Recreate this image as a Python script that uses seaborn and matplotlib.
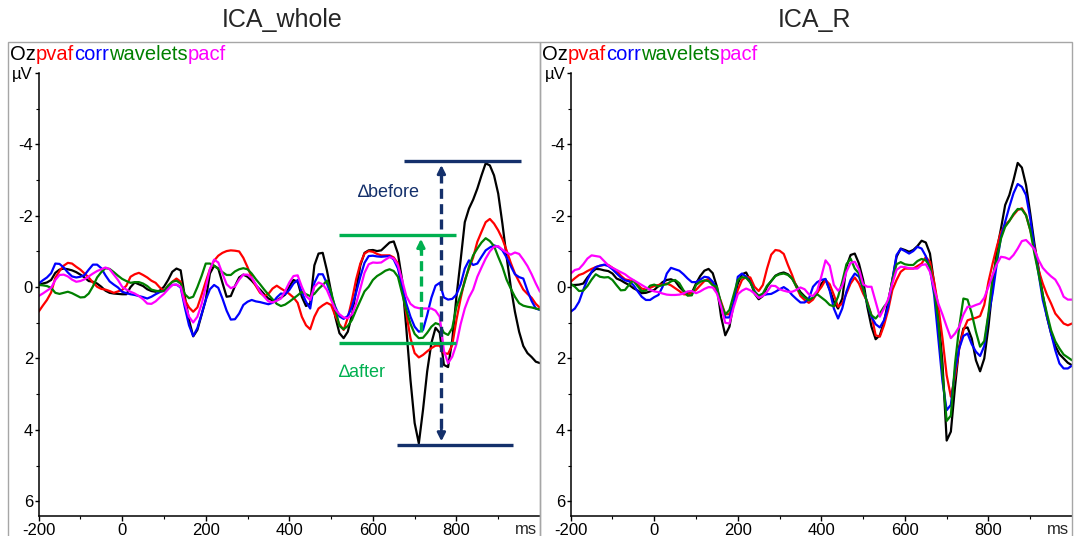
import matplotlib
matplotlib.use("Agg")
import matplotlib.pyplot as plt
import numpy as np
import pandas as pd
import seaborn as sns
from matplotlib.patches import Rectangle

# ---------------- data (µV, 10 ms steps) ----------------
times = list(range(-200, 1001, 10))
methods = ["Oz", "pvaf", "corr", "wavelets", "pacf"]
colors = {"Oz": "#000000", "pvaf": "#ff0000", "corr": "#0000ff",
          "wavelets": "#008000", "pacf": "#ff00ff"}

whole_oz = [-0.06,-0.1,-0.13,-0.2,
    -0.4,-0.49,-0.52,-0.5,-0.47,-0.42,-0.35,-0.27,-0.17,-0.15,-0.1,-0.01,0.1,0.16,0.18,0.19,0.2,0.2,0,-0.13,-0.08,-0.03,0.06,0.11,0.13,0.1,-0.01,-0.2,-0.43,-0.52,-0.47,
    0.27,0.92,1.38,1.2,0.78,0.36,-0.38,-0.6,-0.52,-0.12,0.27,0.25,-0.03,-0.27,-0.35,-0.29,-0.18,-0.05,0.07,0.2,0.32,0.37,0.37,0.3,0.21,-0.01,-0.2,-0.15,0.27,0.53,0.46,
    -0.61,-0.94,-0.96,-0.47,0.13,0.83,1.29,1.43,1.25,0.78,0.08,-0.61,-0.96,-1.03,-1.04,-1.01,-1.03,-1.14,-1.25,-1.28,-0.94,-0.2,1.15,2.6,3.81,4.38,3.44,2.36,1.57,1.14,1.28,
    2.18,2.24,1.48,0.27,-0.75,-1.82,-2.2,-2.45,-2.76,-3.13,-3.47,-3.41,-3.13,-2.62,-1.78,-0.85,-0.01,0.69,1.25,1.65,1.85,1.96,2.09,2.13]
whole_pvaf = [0.69,0.52,0.36,0.15,
    -0.26,-0.45,-0.6,-0.68,-0.66,-0.57,-0.49,-0.38,-0.27,-0.13,-0.01,0.05,0.07,0.11,0.16,0.12,0.08,-0.04,-0.29,-0.36,-0.4,-0.34,-0.27,-0.18,-0.12,0.01,0.11,-0.04,-0.15,-0.24,-0.15,
    0.36,0.57,0.69,0.57,0.22,-0.15,-0.5,-0.74,-0.88,-0.96,-1.01,-1.03,-1.02,-1.0,-0.82,-0.56,-0.27,-0.03,0.16,0.25,0.19,0.04,-0.04,0.04,0.11,0.19,0.29,0.44,0.83,1.07,1.18,
    0.83,0.6,0.51,0.44,0.5,0.8,1.04,1.2,0.86,0.36,-0.22,-0.66,-0.94,-1.01,-0.99,-0.93,-0.89,-0.89,-0.89,-0.83,-0.66,-0.01,0.74,1.43,1.85,1.97,1.9,1.8,1.71,1.64,1.64,
    1.85,1.87,1.62,0.92,0.32,-0.2,-0.52,-0.83,-1.27,-1.55,-1.82,-1.91,-1.78,-1.59,-1.35,-1.03,-0.68,-0.38,-0.15,0.07,0.19,0.3,0.47,0.58]
whole_corr = [-0.1,-0.19,-0.27,-0.39,
    -0.66,-0.65,-0.55,-0.41,-0.3,-0.27,-0.29,-0.34,-0.49,-0.63,-0.63,-0.53,-0.33,-0.16,-0.07,0.01,0.13,0.17,0.2,0.22,0.25,0.28,0.32,0.27,0.2,0.14,0.1,0.03,-0.06,-0.07,0.01,
    0.57,1.07,1.37,1.15,0.76,0.36,0.06,-0.06,0.02,0.32,0.66,0.91,0.9,0.74,0.5,0.41,0.36,0.4,0.42,0.45,0.48,0.44,0.29,0.18,0.2,0.08,-0.1,-0.2,0.15,0.41,0.6,
    -0.12,-0.36,-0.36,-0.1,0.22,0.55,0.82,0.89,0.81,0.55,0.15,-0.29,-0.68,-0.87,-0.88,-0.86,-0.85,-0.86,-0.87,-0.77,-0.52,-0.01,0.46,0.83,1.11,1.25,1.2,0.78,0.3,-0.04,-0.12,
    0.29,0.35,0.33,0.21,-0.08,-0.52,-0.75,-0.62,-0.66,-0.85,-1.03,-1.11,-1.17,-1.13,-1.03,-0.83,-0.59,-0.36,-0.28,-0.24,0.1,0.39,0.6,0.64]
whole_wavelets = [-0.06,-0.05,-0.03,0.02,
    0.16,0.19,0.16,0.13,0.17,0.23,0.29,0.28,0.18,-0.02,-0.27,-0.42,-0.53,-0.51,-0.42,-0.32,-0.23,-0.17,-0.12,-0.14,-0.14,-0.1,-0.03,0.07,0.1,0.12,0.11,-0.04,-0.15,-0.18,-0.1,
    0.2,0.31,0.27,0,-0.31,-0.66,-0.66,-0.6,-0.51,-0.42,-0.34,-0.34,-0.44,-0.5,-0.53,-0.5,-0.38,-0.22,-0.08,0.07,0.21,0.34,0.47,0.53,0.49,0.41,0.32,0.23,0.13,0.2,0.25,
    0.19,0.05,-0.06,-0.18,0.13,0.6,1.09,1.18,1.09,0.92,0.64,0.38,0.12,-0.01,-0.2,-0.31,-0.38,-0.46,-0.5,-0.45,-0.29,0.18,0.64,1.03,1.31,1.43,1.42,1.28,1.11,1.01,1.05,
    1.28,1.34,1.15,0.55,0.22,-0.15,-0.57,-0.89,-1.08,-1.25,-1.37,-1.29,-1.15,-0.85,-0.57,-0.21,0.04,0.27,0.45,0.52,0.55,0.57,0.6,0.63]
whole_pacf = [0.25,0.18,0.1,0.02,
    -0.2,-0.34,-0.35,-0.3,-0.21,-0.15,-0.17,-0.22,-0.3,-0.38,-0.45,-0.5,-0.55,-0.5,-0.35,-0.2,-0.01,0.07,0.13,0.18,0.25,0.34,0.46,0.47,0.4,0.29,0.19,0.06,-0.06,-0.07,-0.01,
    0.46,0.83,0.99,0.83,0.48,0.0,-0.5,-0.77,-0.69,-0.38,-0.08,0.03,-0.02,-0.21,-0.35,-0.35,-0.26,-0.08,0.12,0.27,0.4,0.43,0.38,0.32,0.11,-0.13,-0.31,-0.33,-0.01,0.25,0.36,
    -0.01,-0.13,-0.08,0.08,0.36,0.62,0.76,0.85,0.87,0.76,0.46,0.04,-0.4,-0.64,-0.69,-0.68,-0.69,-0.77,-0.84,-0.8,-0.61,-0.2,0.25,0.47,0.56,0.59,0.6,0.6,0.6,0.66,0.83,
    1.78,2.13,1.95,1.6,1.04,0.6,0.29,0.07,-0.29,-0.55,-0.8,-1.0,-1.13,-1.15,-1.05,-0.97,-0.91,-0.97,-0.93,-0.77,-0.59,-0.36,-0.1,0.13]

r_oz = [-0.06,-0.06,-0.07,-0.1,-0.27,-0.41,-0.51,-0.5,-0.47,-0.45,
    -0.38,-0.24,-0.19,-0.12,-0.06,0.03,0.09,0.17,0.16,0.12,
    0.08,-0.03,-0.14,-0.2,-0.22,-0.17,-0.01,0.11,0.18,0.16,
    -0.1,-0.31,-0.46,-0.51,-0.39,-0.01,0.83,1.35,1.11,0.46,
    -0.1,-0.36,-0.41,-0.18,0.18,0.34,0.25,-0.01,-0.17,-0.32,
    -0.38,-0.41,-0.36,-0.24,-0.05,0.14,0.26,0.36,0.32,0.16,
    -0.1,-0.21,0.07,0.41,0.6,0.32,-0.57,-0.9,-0.94,-0.66,
    -0.2,0.55,1.11,1.46,1.35,0.97,0.41,-0.2,-0.85,-1.08,
    -1.04,-0.99,-1.04,-1.15,-1.3,-1.25,-0.94,-0.1,0.74,2.14,
    4.3,4.05,2.79,1.67,1.16,1.13,1.44,2.05,2.36,2.0,
    1.11,-0.01,-1.04,-1.64,-2.3,-2.58,-3.0,-3.48,-3.35,-2.86,
    -2.07,-1.22,-0.52,0.22,0.83,1.3,1.65,1.88,2.0,2.12,
    2.19]
r_pvaf = [-0.15,-0.25,-0.34,-0.38,-0.45,-0.51,-0.56,-0.6,-0.62,-0.62,
    -0.54,-0.46,-0.32,-0.22,-0.19,-0.17,-0.07,0.04,0.07,0.02,
    -0.03,-0.06,-0.08,-0.1,-0.05,0.03,0.11,0.2,0.21,0.16,
    0.08,-0.05,-0.17,-0.23,-0.1,0.1,0.41,0.76,0.76,0.46,
    0.08,-0.2,-0.29,-0.27,-0.01,0.11,-0.06,-0.52,-0.91,-1.04,
    -1.02,-0.93,-0.62,-0.34,-0.01,0.25,0.36,0.44,0.35,0.15,
    0.0,-0.2,-0.08,0.22,0.55,0.46,0.18,-0.1,-0.27,-0.1,
    0.18,0.41,0.79,1.35,1.39,1.07,0.64,0.08,-0.2,-0.43,
    -0.52,-0.52,-0.52,-0.59,-0.66,-0.84,-0.71,-0.15,0.55,1.44,
    2.47,3.07,2.51,1.72,1.21,0.93,0.89,0.86,0.81,0.5,
    -0.15,-0.66,-1.13,-1.55,-1.74,-1.86,-2.02,-2.16,-2.21,-2.02,
    -1.6,-1.13,-0.48,-0.1,0.21,0.46,0.74,0.88,1.02,1.07,
    1.02]
r_corr = [0.69,0.6,0.41,0.08,-0.21,-0.43,-0.56,-0.6,-0.63,-0.59,
    -0.5,-0.38,-0.27,-0.19,-0.16,-0.06,0.11,0.27,0.36,0.36,
    0.28,0.22,-0.01,-0.38,-0.54,-0.5,-0.46,-0.36,-0.24,-0.14,
    -0.14,-0.21,-0.29,-0.27,-0.15,0.04,0.5,0.85,0.85,0.46,
    -0.29,-0.38,-0.29,-0.13,0.11,0.26,0.23,0.2,0.19,0.13,
    0.06,0,0.08,0.22,0.33,0.43,0.43,0.33,-0.01,-0.14,
    -0.2,-0.23,0.1,0.6,0.88,0.6,0.13,-0.2,-0.38,-0.29,
    0.04,0.46,0.83,1.04,1.13,0.93,0.55,-0.2,-0.9,-1.07,
    -1.01,-0.94,-1.01,-1.13,-1.08,-0.87,-0.52,0.22,1.44,2.65,
    3.45,3.3,2.33,1.72,1.37,1.3,1.6,1.81,1.93,1.65,
    0.79,0.18,-0.66,-1.41,-1.83,-2.25,-2.63,-2.89,-2.81,-2.58,
    -1.93,-1.08,-0.38,0.36,0.83,1.3,1.77,2.14,2.28,2.28,
    2.2]
r_wavelets = [-0.09,-0.01,0.11,0.1,-0.03,-0.21,-0.36,-0.29,-0.27,-0.28,
    -0.2,-0.05,0.09,0.08,-0.07,-0.19,-0.03,0.11,0.1,-0.04,
    -0.07,-0.02,-0.06,-0.08,-0.16,-0.2,-0.11,0.09,0.24,0.23,
    -0.06,-0.15,-0.19,-0.17,-0.05,-0.01,0.46,0.77,0.64,0.22,
    -0.2,-0.28,-0.26,-0.13,0.13,0.24,0.18,-0.04,-0.17,-0.31,
    -0.36,-0.38,-0.34,-0.24,-0.01,0.18,0.29,0.37,0.29,0.2,
    0.29,0.38,0.5,0.54,0.27,-0.15,-0.64,-0.8,-0.52,-0.38,
    0.04,0.46,0.79,0.88,0.74,0.55,0.41,-0.2,-0.64,-0.7,
    -0.64,-0.62,-0.62,-0.73,-0.79,-0.75,-0.57,0.08,0.97,2.42,
    3.75,3.6,2.14,1.11,0.32,0.35,0.74,1.25,1.67,1.51,
    0.74,-0.29,-0.8,-1.36,-1.69,-1.85,-2.05,-2.19,-2.18,-2.01,
    -1.6,-0.94,-0.38,0.22,0.74,1.21,1.52,1.72,1.89,1.97,
    2.05]
r_pacf = [-0.38,-0.48,-0.51,-0.64,-0.8,-0.89,-0.87,-0.85,-0.73,-0.61,
    -0.54,-0.48,-0.42,-0.36,-0.27,-0.2,-0.13,-0.06,0.01,0.08,
    0.12,0.14,0.18,0.21,0.22,0.22,0.21,0.18,0.12,0.11,
    0.17,0.12,0.05,0,0.01,0.18,0.55,1.0,1.02,0.57,
    0.2,0.1,0.04,0.09,0.18,0.3,0.25,0.13,-0.04,-0.03,
    0.06,0.1,0.13,0.13,0.08,0.01,0.06,0.2,0.25,0.1,
    -0.3,-0.75,-0.6,-0.06,0.1,-0.03,-0.43,-0.68,-0.71,-0.5,
    -0.08,-0.01,-0.01,0.41,0.83,0.6,0.34,-0.1,-0.48,-0.57,
    -0.56,-0.53,-0.52,-0.52,-0.62,-0.64,-0.43,0.04,0.46,0.77,
    1.11,1.43,1.3,1.11,0.77,0.55,0.55,0.5,0.46,0.3,
    -0.01,-0.34,-0.64,-0.85,-0.83,-0.78,-0.9,-1.08,-1.29,-1.32,
    -1.2,-1.06,-0.76,-0.54,-0.41,-0.3,-0.21,-0.01,0.27,0.35,
    0.35]

panels = {
    "ICA_whole": [whole_oz, whole_pvaf, whole_corr, whole_wavelets, whole_pacf],
    "ICA_R": [r_oz, r_pvaf, r_corr, r_wavelets, r_pacf],
}
for name, series in panels.items():
    for s in series:
        assert len(s) == len(times), (name, len(s))

x_major = [-200, 0, 200, 400, 600, 800]
x_minor = [-100, 100, 300, 500, 700, 900]
y_major = [-6, -4, -2, 0, 2, 4, 6]
y_labels = ["µV", "-4", "-2", "0", "2", "4", "6"]
y_minor = [-5, -3, -1, 1, 3, 5]

rows = []
for pname, series in panels.items():
    for m, vals in zip(methods, series):
        for t, v in zip(times, vals):
            rows.append((pname, m, t, v))
df = pd.DataFrame(rows, columns=["panel", "method", "time", "uv"])

# ---------------- style ----------------
sns.set_theme(style="ticks")
plt.rcParams["font.family"] = ["Liberation Sans", "DejaVu Sans"]
plt.rcParams["axes.unicode_minus"] = False

W, H = 1074, 536
fig = plt.figure(figsize=(W / 100, H / 100), dpi=100)

NAVY = "#14306b"
GREEN = "#00b050"
FRAME = "#a6a6a6"

def fx(px):
    return px / W

def fy(py):
    return 1 - py / H

panel_geom = {
    "ICA_whole": dict(frame=(8, 540), ax_left=38.6, title_x=282),
    "ICA_R": dict(frame=(540, 1072), ax_left=570.7, title_x=815),
}
ax_top, ax_bot = 73, 515.5

for pname in ["ICA_whole", "ICA_R"]:
    g = panel_geom[pname]
    f0, f1 = g["frame"]
    fig.patches.append(Rectangle((fx(f0), -0.01), fx(f1) - fx(f0), fy(42) + 0.01,
                                 transform=fig.transFigure, fill=False,
                                 edgecolor=FRAME, lw=1.0, zorder=0))
    ax = fig.add_axes([fx(g["ax_left"]), fy(ax_bot), fx(f1) - fx(g["ax_left"]),
                       fy(ax_top) - fy(ax_bot)])
    ax.set_facecolor("none")
    d = df[df.panel == pname]
    sns.lineplot(data=d, x="time", y="uv", hue="method", hue_order=methods,
                 palette=colors, estimator=None, sort=False, lw=1.6,
                 legend=False, ax=ax)
    ax.set_xlim(-200, 1000)
    ax.set_ylim(6.4, -6)
    ax.set_xlabel("")
    ax.set_ylabel("")
    for sp in ["top", "right"]:
        ax.spines[sp].set_visible(False)
    for sp in ["left", "bottom"]:
        ax.spines[sp].set_color("black")
        ax.spines[sp].set_linewidth(1.1)
    ax.set_xticks(x_major)
    ax.set_xticks(x_minor, minor=True)
    ax.set_yticks(y_major)
    ax.set_yticklabels(y_labels)
    ax.set_yticks(y_minor, minor=True)
    ax.tick_params(axis="x", which="major", length=3.5, width=1, pad=2,
                   labelsize=12, color="black", labelcolor="black")
    ax.tick_params(axis="x", which="minor", length=2.2, width=0.8, color="black")
    ax.tick_params(axis="y", which="major", length=3, width=1, pad=1,
                   labelsize=12, color="black", labelcolor="black")
    ax.tick_params(axis="y", which="minor", length=2.2, width=0.8, color="black")

    fig.text(fx(g["title_x"]), fy(20), pname, ha="center", va="center", fontsize=18)
    fig.text(fx(f1 - 14), fy(530), "ms", ha="center", va="center", fontsize=12)

    # multi-coloured header
    prev = fig.text(fx(f0 + 2), fy(54), methods[0], color=colors[methods[0]],
                    fontsize=14.5, ha="left", va="center")
    for m in methods[1:]:
        prev = ax.annotate(m, xy=(1, 0), xycoords=prev, ha="left", va="bottom",
                           color=colors[m], fontsize=14.5, annotation_clip=False)

    if pname == "ICA_whole":
        # Delta-before markers
        ax.hlines(-3.53, 674, 954, color=NAVY, lw=2.4)
        ax.hlines(4.43, 657, 935, color=NAVY, lw=2.4)
        ax.vlines(764, -3.2, 4.1, color=NAVY, lw=2.4, linestyles=(0, (3, 1.6)))
        ax.annotate("", xy=(764, -3.5), xytext=(764, -3.0),
                    arrowprops=dict(arrowstyle="-|>", color=NAVY, lw=2, mutation_scale=12))
        ax.annotate("", xy=(764, 4.4), xytext=(764, 3.9),
                    arrowprops=dict(arrowstyle="-|>", color=NAVY, lw=2, mutation_scale=12))
        ax.text(638, -2.66, "∆before", color=NAVY, fontsize=13, ha="center", va="center")
        # Delta-after markers
        ax.hlines(-1.46, 519, 799, color=GREEN, lw=2.4)
        ax.hlines(1.57, 519, 799, color=GREEN, lw=2.4)
        ax.vlines(715, 1.25, -1.15, color=GREEN, lw=2.4, linestyles=(0, (3, 1.6)))
        ax.annotate("", xy=(715, -1.43), xytext=(715, -0.95),
                    arrowprops=dict(arrowstyle="-|>", color=GREEN, lw=2, mutation_scale=12))
        ax.text(576, 2.38, "∆after", color=GREEN, fontsize=13, ha="center", va="center")

fig.savefig("out.png", dpi=100)
